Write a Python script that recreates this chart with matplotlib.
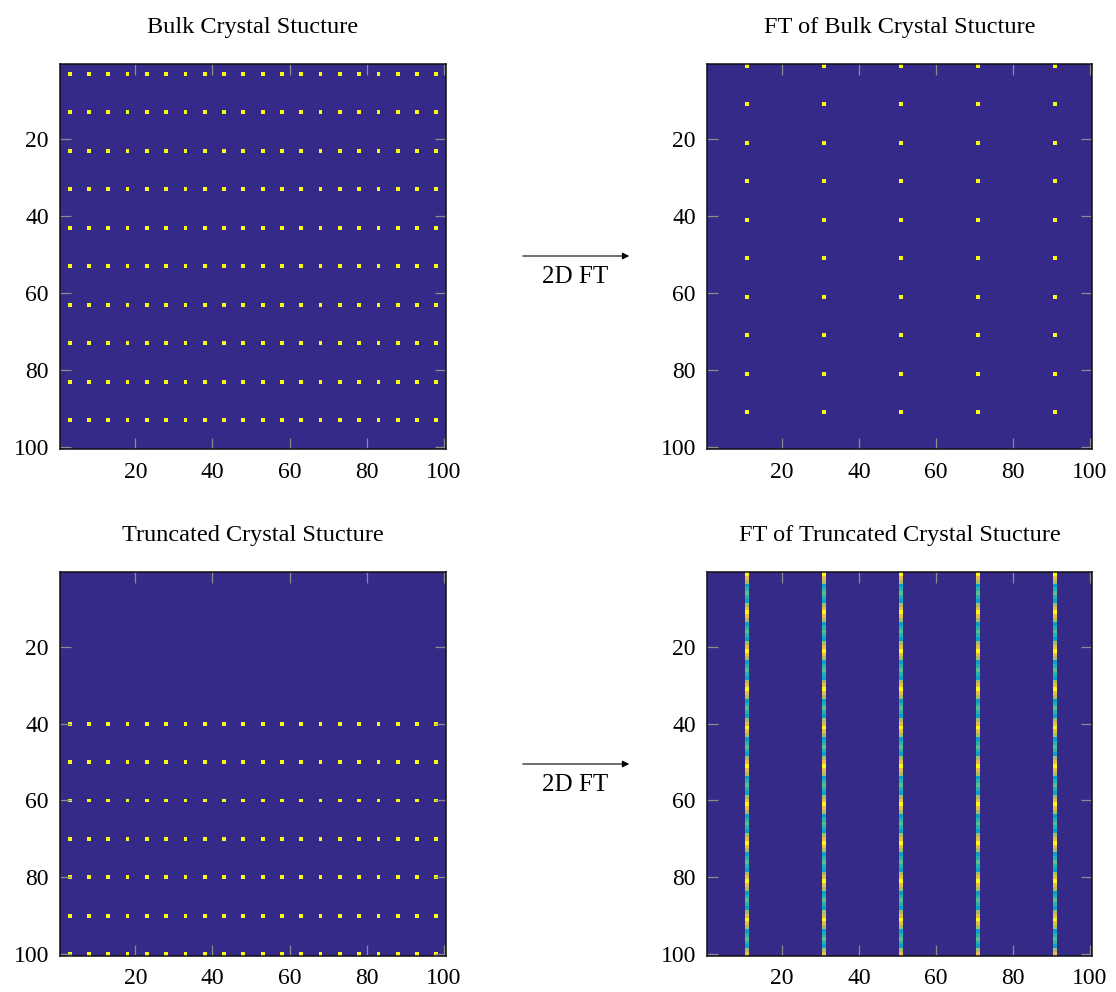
#!/usr/bin/env python3
"""Bulk and truncated crystal lattices next to their 2D Fourier transforms."""
from __future__ import annotations

import matplotlib

matplotlib.use("Agg")
import matplotlib.pyplot as plt
import numpy as np
from matplotlib.colors import LinearSegmentedColormap
from matplotlib.patches import FancyArrowPatch


GRID = 100
BULK_ROWS = [3, 13, 23, 33, 43, 53, 63, 73, 83, 93]
BULK_COLS = [3, 8, 13, 18, 23, 28, 33, 38, 43, 48, 53, 58, 63, 68, 73, 78, 83, 88, 93, 98]
TRUNC_ROWS = [40, 50, 60, 70, 80, 90, 100]
FT_BULK_ROWS = [1, 11, 21, 31, 41, 51, 61, 71, 81, 91]
FT_COLS = [11, 31, 51, 71, 91]
# intensity along each bright FT column, one 10-row period
FT_TRUNC_PERIOD = [1.0, 0.8, 0.67, 0.36, 0.47, 0.56, 0.47, 0.36, 0.67, 0.8]
TICKS = [20, 40, 60, 80, 100]
TITLES = [
    "Bulk Crystal Stucture",
    "FT of Bulk Crystal Stucture",
    "Truncated Crystal Stucture",
    "FT of Truncated Crystal Stucture",
]

PARULA = LinearSegmentedColormap.from_list(
    "parula",
    ["#352a87", "#0f5cdd", "#127dd8", "#079ccf", "#15b1b4",
     "#59bd8c", "#a5be6b", "#e1b952", "#fcce2e", "#f9fb0e"],
)

W, H = 1116, 992
FONT = ["Liberation Serif", "DejaVu Serif"]


def lattice(rows: list[int], cols: list[int]) -> np.ndarray:
    img = np.zeros((GRID, GRID))
    img[np.ix_(np.array(rows) - 1, np.array(cols) - 1)] = 1.0
    return img


def truncated_ft() -> np.ndarray:
    img = np.zeros((GRID, GRID))
    profile = np.tile(FT_TRUNC_PERIOD, GRID // len(FT_TRUNC_PERIOD))
    img[:, np.array(FT_COLS) - 1] = profile[:, None]
    return img


def px_axes(fig, left, top, right, bottom):
    return fig.add_axes([left / W, 1 - bottom / H, (right - left) / W, (bottom - top) / H])


def draw_panel(ax, img: np.ndarray, title: str) -> None:
    ax.imshow(img, cmap=PARULA, vmin=0, vmax=1, interpolation="nearest",
              extent=(0.5, GRID + 0.5, GRID + 0.5, 0.5), aspect="auto")
    ax.set_xticks(TICKS)
    ax.set_yticks(TICKS)
    ax.tick_params(direction="in", length=8, width=0.9, color="#8c8c8c",
                   top=True, right=True, labelsize=17)
    ax.tick_params(axis="x", pad=9)
    ax.tick_params(axis="y", pad=8)
    for spine in ax.spines.values():
        spine.set_linewidth(1.1)
        spine.set_color("#111111")
    ax.set_title(title, fontsize=17.5, pad=22)


def arrow(fig, y: float) -> None:
    fig.add_artist(FancyArrowPatch(
        (520 / W, 1 - y / H), (632 / W, 1 - y / H), transform=fig.transFigure,
        arrowstyle="-|>", mutation_scale=10, color="black", lw=0.8))
    fig.text(575 / W, 1 - (y + 21) / H, "2D FT", ha="center", va="center", fontsize=18)


def main() -> None:
    plt.rcParams["font.family"] = FONT
    fig = plt.figure(figsize=(W / 100, H / 100), dpi=100)

    images = [
        lattice(BULK_ROWS, BULK_COLS),
        lattice(FT_BULK_ROWS, FT_COLS),
        lattice(TRUNC_ROWS, BULK_COLS),
        truncated_ft(),
    ]
    boxes = [
        (60, 64, 446, 449),
        (707, 64, 1092, 449),
        (60, 572, 446, 956),
        (707, 572, 1092, 956),
    ]
    for img, title, box in zip(images, TITLES, boxes):
        draw_panel(px_axes(fig, *box), img, title)

    arrow(fig, 256)
    arrow(fig, 764)

    fig.savefig("out.png", dpi=100)
    plt.close(fig)


if __name__ == "__main__":
    main()
